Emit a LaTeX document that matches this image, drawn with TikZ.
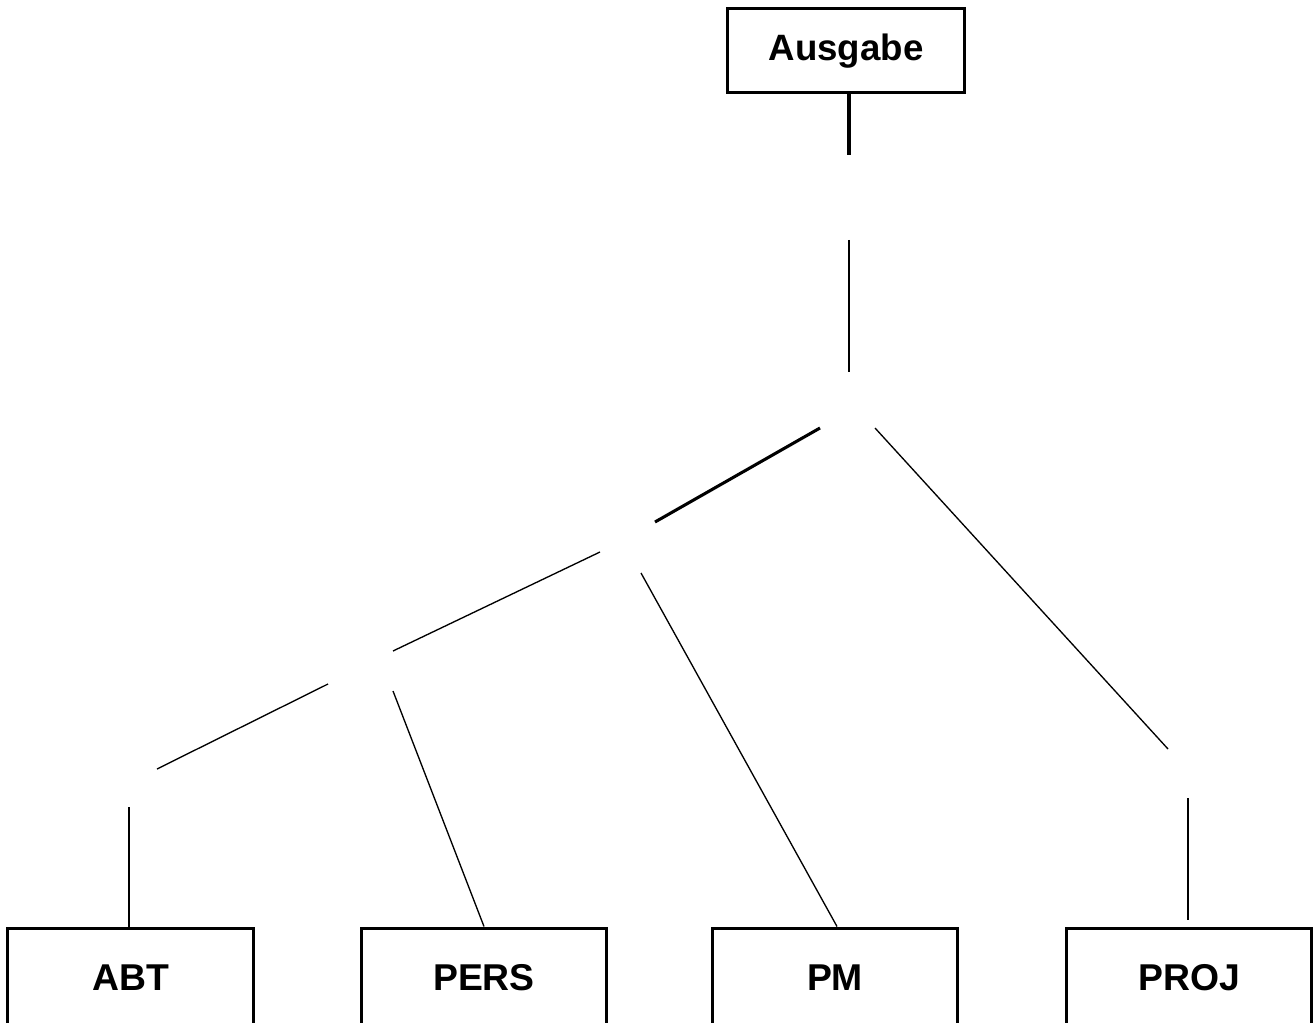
\documentclass[tikz,border=0pt]{standalone}
\usepackage{fontspec}
\setmainfont{Liberation Sans}

\begin{document}
\begin{tikzpicture}[x=0.75pt,y=0.75pt,yscale=-1,xscale=1,
  relbox/.style={draw,line width=2.25pt,minimum width=184pt,minimum height=75pt,inner sep=0pt,font=\bfseries\fontsize{28}{30}\selectfont},
  outbox/.style={draw,line width=2.25pt,minimum width=178pt,minimum height=63pt,inner sep=0pt,font=\bfseries\fontsize{27.5}{30}\selectfont},
  edgethin/.style={line width=1pt},
  edgethick/.style={line width=2.3pt}]
%set diagram size to the reference
\useasboundingbox (0,0) rectangle (1316,1023);
\clip (0,0) rectangle (1316,1023);

% Boxes
\node [outbox] (ausgabe) at (846,51) {Ausgabe};
\node [relbox] (abt) at (130.5,978) {ABT};
\node [relbox] (pers) at (484,978) {PERS};
\node [relbox] (pm) at (835,978) {PM};
\node [relbox] (proj) at (1189,978) {PROJ};

% Segment ends
\coordinate (s1) at (849,155);
\coordinate (s2a) at (849,240);
\coordinate (s2b) at (849,372);
\coordinate (s3a) at (820,428);
\coordinate (s3b) at (655,522);
\coordinate (s4a) at (875,428);
\coordinate (s4b) at (1168,749);
\coordinate (s5a) at (600,552);
\coordinate (s5b) at (393,651);
\coordinate (s6a) at (641,573);
\coordinate (s7a) at (328,684);
\coordinate (s7b) at (157,769);
\coordinate (s8a) at (393,691);
\coordinate (s9a) at (129,807);
\coordinate (s10a) at (1188,798);
\coordinate (s10b) at (1188,920);

% Lines
\draw [edgethick] (ausgabe.south -| s1) -- (s1);
\draw [edgethin] (s2a) -- (s2b);
\draw [edgethick] (s3a) -- (s3b);
\draw [edgethin] (s4a) -- (s4b);
\draw [edgethin] (s5a) -- (s5b);
\draw [edgethin] (s6a) -- (pm.north -| 837,0);
\draw [edgethin] (s7a) -- (s7b);
\draw [edgethin] (s8a) -- (pers.north);
\draw [edgethin] (s9a) -- (abt.north -| s9a);
\draw [line width=1.5pt] (s10a) -- (s10b);

\end{tikzpicture}
\end{document}
